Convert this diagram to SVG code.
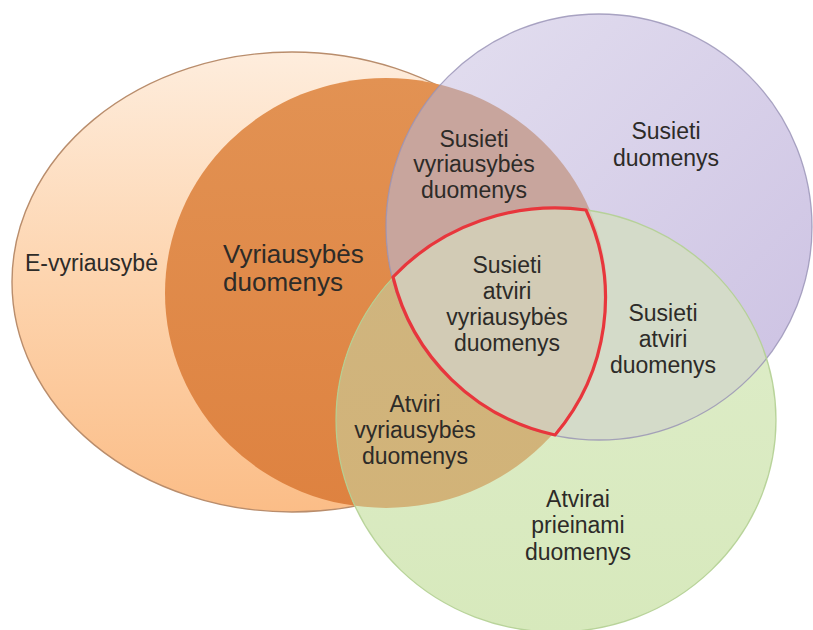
<svg xmlns="http://www.w3.org/2000/svg" width="813" height="630" viewBox="0 0 813 630">
  <style>
    text { font-family: "Liberation Sans", Arial, sans-serif; fill: #2d2b28; }
    .lbl { font-size: 23px; text-anchor: middle; }
    .big { font-size: 26px; }
    .edge-outer { fill: none; stroke: #b98d6c; stroke-width: 1.4; }
    .edge-purple { fill: none; stroke: #9690b4; stroke-width: 1.3; opacity: 0.8; }
    .edge-green { fill: none; stroke: #b3cf92; stroke-width: 1.3; opacity: 0.9; }
    .core { fill: none; stroke: #e8363c; stroke-width: 3.2; stroke-linejoin: round; }
  </style>
  <defs>
    <linearGradient id="gOuter" x1="0" y1="0" x2="0" y2="1">
      <stop offset="0" stop-color="#feeddd"/>
      <stop offset="0.5" stop-color="#fdd4ae"/>
      <stop offset="1" stop-color="#fbbd87"/>
    </linearGradient>
    <linearGradient id="gOrange" x1="0" y1="0" x2="0" y2="1">
      <stop offset="0" stop-color="#e29253"/>
      <stop offset="1" stop-color="#de8240"/>
    </linearGradient>
    <linearGradient id="gPurple" x1="0" y1="0" x2="1" y2="1">
      <stop offset="0" stop-color="#e4e0f0"/>
      <stop offset="1" stop-color="#cbc0e2"/>
    </linearGradient>
    <linearGradient id="gGreen" x1="0" y1="0" x2="0" y2="1">
      <stop offset="0" stop-color="#dfedcb"/>
      <stop offset="1" stop-color="#d7e9bc"/>
    </linearGradient>
    <linearGradient id="gOG" x1="0" y1="0" x2="0" y2="1">
      <stop offset="0" stop-color="#cdb684"/>
      <stop offset="1" stop-color="#d2b378"/>
    </linearGradient>

    <clipPath id="cOuter"><ellipse cx="292" cy="282" rx="280" ry="230"/></clipPath>
    <clipPath id="cOrange"><ellipse cx="386" cy="293" rx="221" ry="215"/></clipPath>
    <clipPath id="cPurple"><circle cx="599" cy="227" r="213"/></clipPath>
    <clipPath id="cGreen"><ellipse cx="556" cy="420" rx="220" ry="212"/></clipPath>
    <clipPath id="cGreenPurple" clip-path="url(#cGreen)"><circle cx="599" cy="227" r="213"/></clipPath>
  </defs>

  <!-- E-government: outer ellipse -->
  <g id="set-egov">
    <ellipse cx="292" cy="282" rx="280" ry="230" fill="url(#gOuter)"/>
    <ellipse class="edge-outer" cx="292" cy="282" rx="280" ry="230"/>
  </g>

  <!-- Government data -->
  <g id="set-govdata">
    <ellipse cx="386" cy="293" rx="221" ry="215" fill="url(#gOrange)"/>
  </g>

  <!-- Linked data -->
  <g id="set-linked">
    <circle cx="599" cy="227" r="213" fill="url(#gPurple)"/>
    <ellipse cx="386" cy="293" rx="221" ry="215" fill="#c8a59d" clip-path="url(#cPurple)"/>
  </g>

  <!-- Open data -->
  <g id="set-open">
    <ellipse cx="556" cy="420" rx="220" ry="212" fill="url(#gGreen)"/>
    <ellipse cx="292" cy="282" rx="280" ry="230" fill="#e4d3a6" clip-path="url(#cGreen)"/>
    <ellipse cx="386" cy="293" rx="221" ry="215" fill="url(#gOG)" clip-path="url(#cGreen)"/>
    <circle cx="599" cy="227" r="213" fill="#d4dbc9" clip-path="url(#cGreen)"/>
    <ellipse cx="386" cy="293" rx="221" ry="215" fill="#d2cbb5" clip-path="url(#cGreenPurple)"/>
  </g>

  <!-- set outlines -->
  <g id="outlines">
    <circle class="edge-purple" cx="599" cy="227" r="213"/>
    <ellipse class="edge-green" cx="556" cy="420" rx="220" ry="212"/>
  </g>

  <!-- Linked open government data: triple intersection -->
  <g id="core">
    <path class="core" d="M393,277 A220,212 0 0 1 586,210 A221,215 0 0 1 555,435 A213,213 0 0 1 393,277 Z"/>
  </g>

  <g id="labels">
    <text x="25" y="271" style="font-size:23px">E-vyriausybė</text>
    <text class="big" x="223" y="263">Vyriausybės</text>
    <text class="big" x="223" y="291">duomenys</text>

    <text class="lbl" x="474" y="147">Susieti</text>
    <text class="lbl" x="474" y="172">vyriausybės</text>
    <text class="lbl" x="474" y="198">duomenys</text>

    <text class="lbl" x="666" y="139">Susieti</text>
    <text class="lbl" x="666" y="166">duomenys</text>

    <text class="lbl" x="507" y="273">Susieti</text>
    <text class="lbl" x="507" y="299">atviri</text>
    <text class="lbl" x="507" y="325">vyriausybės</text>
    <text class="lbl" x="507" y="351">duomenys</text>

    <text class="lbl" x="663" y="321">Susieti</text>
    <text class="lbl" x="663" y="347">atviri</text>
    <text class="lbl" x="663" y="373">duomenys</text>

    <text class="lbl" x="415" y="412">Atviri</text>
    <text class="lbl" x="415" y="438">vyriausybės</text>
    <text class="lbl" x="415" y="464">duomenys</text>

    <text class="lbl" x="578" y="507">Atvirai</text>
    <text class="lbl" x="578" y="533">prieinami</text>
    <text class="lbl" x="578" y="560">duomenys</text>
  </g>
</svg>
